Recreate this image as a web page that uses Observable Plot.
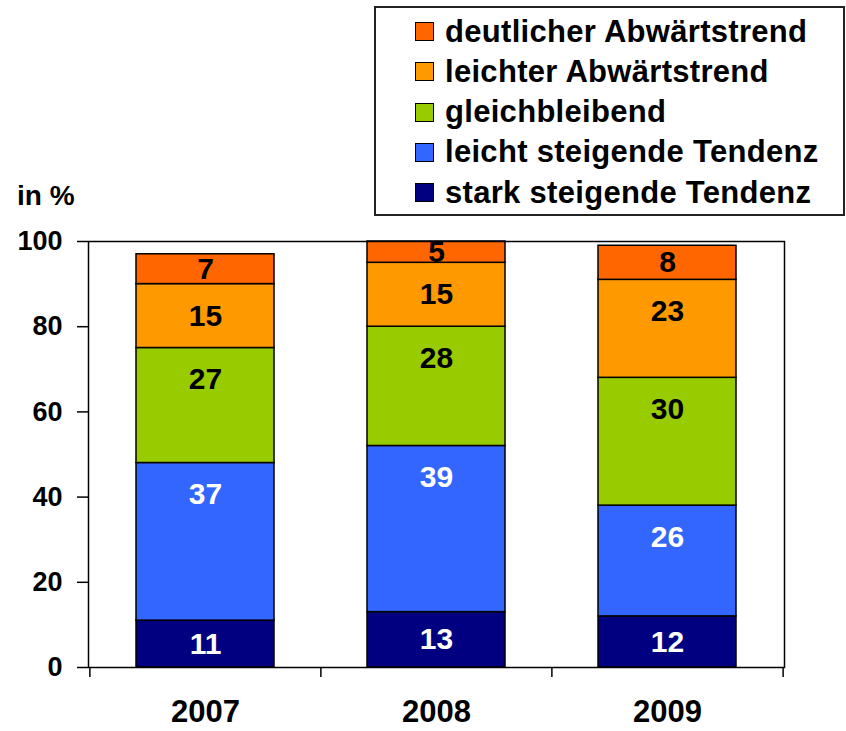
<!DOCTYPE html>
<html><head><meta charset="utf-8">
<script src="https://cdn.jsdelivr.net/npm/d3@7"></script>
<script src="https://cdn.jsdelivr.net/npm/@observablehq/plot@0.6"></script>
<style>
body{margin:0;background:#fff;font-family:"Liberation Sans",Arial,sans-serif;}
#wrap{position:relative;width:846px;height:731px;overflow:hidden;}
#wrap svg{position:absolute;left:0;top:0;}
#unit{position:absolute;left:17px;top:180px;font-size:28px;font-weight:bold;line-height:normal;color:#000;}
#legend{position:absolute;left:374px;top:6px;width:467px;height:206px;border:2px solid #222;background:#fff;}
.row{position:absolute;left:0;height:40px;display:flex;align-items:center;font-size:31px;letter-spacing:0.3px;font-weight:bold;color:#000;white-space:nowrap;}
.sw{width:17px;height:17px;border:1.5px solid #000;margin-left:39px;margin-right:11px;flex:none;}
</style></head><body><div id="wrap"></div>
<script>
const years = ["2007", "2008", "2009"];
const series = ["stark steigende Tendenz", "leicht steigende Tendenz", "gleichbleibend", "leichter Abwärtstrend", "deutlicher Abwärtstrend"];
const colors = ["#000080", "#3366FF", "#99CC00", "#FF9900", "#FF6600"];
const starkSteigend = [11, 13, 12];
const leichtSteigend = [37, 39, 26];
const gleichbleibend = [27, 28, 30];
const leichterAbwaerts = [15, 15, 23];
const deutlicherAbwaerts = [7, 5, 8];
const yTicks = [0, 20, 40, 60, 80, 100];
const whiteLabelSeries = ["stark steigende Tendenz", "leicht steigende Tendenz"];

const seriesValues = [starkSteigend, leichtSteigend, gleichbleibend, leichterAbwaerts, deutlicherAbwaerts];
const data = series.flatMap((s, i) => years.map((y, j) => ({year: y, series: s, value: seriesValues[i][j]})));

const W = 846, H = 731, mL = 88, mR = 62, mT = 241, mB = 64;
const pI = 0.404, pO = 0.207;
const step = (W - mL - mR) / (years.length - pI + 2 * pO);
const isWhite = d => whiteLabelSeries.includes(d.series);
const isTall = d => d.value > 15;

// Labels: small segments centred, tall segments anchored near their top edge
function labels(cond, fill, top) {
  const opts = {x: "year", y: "value", z: "series", order: series,
    text: d => cond(d) ? String(d.value) : null, fill, fontSize: 30, fontWeight: "bold"};
  return top
    ? Plot.text(data, Plot.stackY2({...opts, lineAnchor: "top", dy: 20}))
    : Plot.text(data, Plot.stackY(opts));
}

const chart = Plot.plot({
  width: W, height: H,
  marginLeft: mL, marginRight: mR, marginTop: mT, marginBottom: mB,
  style: {fontFamily: "Liberation Sans, Arial, sans-serif", background: "transparent", color: "black"},
  x: {domain: years, paddingInner: pI, paddingOuter: pO, label: null},
  y: {domain: [0, 100], label: null},
  color: {domain: series, range: colors},
  marks: [
    Plot.barY(data, Plot.stackY({x: "year", y: "value", fill: "series", order: series, stroke: "black", strokeWidth: 1.5})),
    labels(d => isWhite(d) && !isTall(d), "white", false),
    labels(d => isWhite(d) && isTall(d), "white", true),
    labels(d => !isWhite(d) && !isTall(d), "black", false),
    labels(d => !isWhite(d) && isTall(d), "black", true),
    Plot.frame({stroke: "black", strokeWidth: 1.5}),
    Plot.ruleX(years, {x: d => d, y1: 0, y2: 0, insetBottom: -10, dx: -step / 2, stroke: "black", strokeWidth: 1.5}),
    Plot.ruleX(years.slice(-1), {x: d => d, y1: 0, y2: 0, insetBottom: -10, dx: step / 2, stroke: "black", strokeWidth: 1.5}),
    Plot.axisY(yTicks, {tickSize: 11, tickPadding: 15, fontSize: 27, fontWeight: "bold", label: null, stroke: "black", strokeWidth: 1.5}),
    Plot.axisX({tickSize: 0, tickPadding: 32, fontSize: 31, fontWeight: "bold", label: null})
  ]
});

const wrap = document.getElementById("wrap");
wrap.appendChild(chart);

const unit = document.createElement("div");
unit.id = "unit";
unit.textContent = "in %";
wrap.appendChild(unit);

const legend = document.createElement("div");
legend.id = "legend";
const legendOrder = series.slice().reverse();
legendOrder.forEach((s, i) => {
  const row = document.createElement("div");
  row.className = "row";
  row.style.top = (3.6 + i * 40.25) + "px";
  const sw = document.createElement("span");
  sw.className = "sw";
  sw.style.background = colors[series.indexOf(s)];
  const t = document.createElement("span");
  t.textContent = s;
  row.appendChild(sw);
  row.appendChild(t);
  legend.appendChild(row);
});
wrap.appendChild(legend);
</script>
</body></html>
